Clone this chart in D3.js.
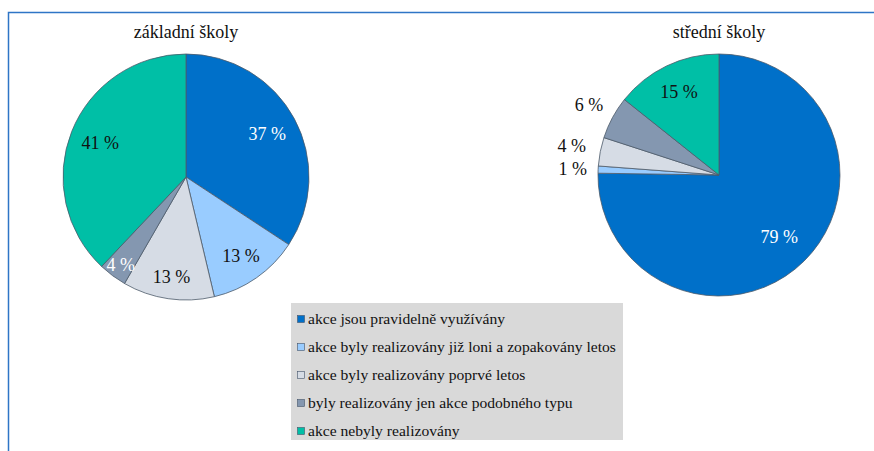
<!DOCTYPE html>
<html>
<head>
<meta charset="utf-8">
<script src="https://cdn.jsdelivr.net/npm/d3@7"></script>
<style>
  body { margin: 0; background: #fff; }
  svg { display: block; }
  text { font-family: "Liberation Serif", "Times New Roman", "DejaVu Serif", serif; }
</style>
</head>
<body>
<div id="grafico"></div>
<script>
const WIDTH = 874;
const HEIGHT = 451;

// data
const categories = [
    "akce jsou pravidelně využívány",
    "akce byly realizovány již loni a zopakovány letos",
    "akce byly realizovány poprvé letos",
    "byly realizovány jen akce podobného typu",
    "akce nebyly realizovány"
];
const zsValues = [37, 13, 13, 4, 41];
const ssValues = [79, 1, 4, 6, 15];
const pieTitles = ["základní školy", "střední školy"];

const colors = ["#0070c9", "#99ccff", "#d6dce5", "#8497b0", "#00bfa6"];

let svg = d3.select("#grafico")
    .append("svg")
    .attr("width", WIDTH)
    .attr("height", HEIGHT);

// frame
svg.append("path")
    .attr("d", "M8.5," + (HEIGHT + 2) + "V12.5H" + (WIDTH + 2))
    .style("fill", "none")
    .style("stroke", "#2e75c6")
    .style("stroke-width", 1.5);

let pie = d3.pie().sort(null).value(d => d);

function drawPie(values, title, cx, cy, r, labelR, labelColors) {
    let g = svg.append("g").attr("transform", "translate(" + cx + "," + cy + ")");
    let arcs = pie(values);
    let arc = d3.arc().innerRadius(0).outerRadius(r);

    g.selectAll(".slice")
        .data(arcs)
        .enter()
        .append("path")
        .attr("class", "slice")
        .attr("d", arc)
        .style("fill", (d, i) => colors[i])
        .style("stroke", "#4d5a6a")
        .style("stroke-width", 0.8);

    g.selectAll(".lbl")
        .data(arcs)
        .enter()
        .append("text")
        .attr("class", "lbl")
        .attr("x", (d, i) => {
            let a = (d.startAngle + d.endAngle) / 2;
            return Math.sin(a) * r * labelR[i];
        })
        .attr("y", (d, i) => {
            let a = (d.startAngle + d.endAngle) / 2;
            return -Math.cos(a) * r * labelR[i];
        })
        .attr("dy", "0.35em")
        .attr("text-anchor", "middle")
        .style("fill", (d, i) => labelColors[i])
        .style("font-size", "18px")
        .text(d => d.data + " %");

    svg.append("text")
        .attr("x", cx)
        .attr("y", 38)
        .attr("text-anchor", "middle")
        .style("fill", "#111")
        .style("font-size", "18px")
        .text(title);
}

drawPie(zsValues, pieTitles[0], 186, 177, 123,
    [0.75, 0.78, 0.82, 0.89, 0.75], ["#fff", "#111", "#111", "#fff", "#111"]);
drawPie(ssValues, pieTitles[1], 719, 175, 121,
    [0.71, 1.21, 1.24, 1.22, 0.76], ["#fff", "#111", "#111", "#111", "#111"]);

// legend
let legend = svg.append("g");
legend.append("rect")
    .attr("x", 291)
    .attr("y", 303)
    .attr("width", 332)
    .attr("height", 137)
    .style("fill", "#d9d9d9");

let rows = legend.selectAll(".row")
    .data(categories)
    .enter()
    .append("g")
    .attr("class", "row")
    .attr("transform", (d, i) => "translate(297," + (319 + i * 28) + ")");

rows.append("rect")
    .attr("x", 0.5)
    .attr("y", -3.5)
    .attr("width", 7)
    .attr("height", 7)
    .style("fill", (d, i) => colors[i])
    .style("stroke", "#44546a")
    .style("stroke-width", 0.6);

rows.append("text")
    .attr("x", 11)
    .attr("dy", "0.33em")
    .style("fill", "#111")
    .style("font-size", "15.6px")
    .text(d => d);
</script>
</body>
</html>
